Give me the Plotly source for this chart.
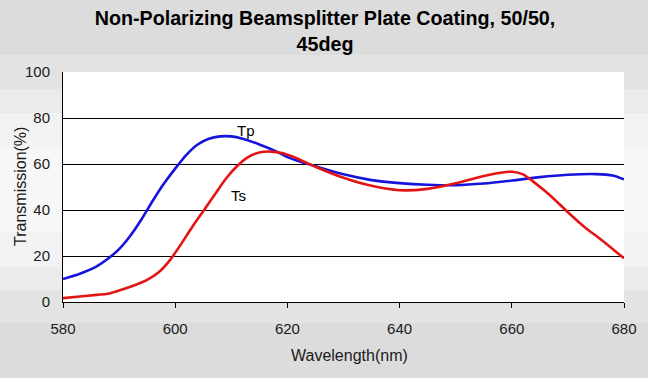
import plotly.graph_objects as go

wl_tp = [580, 583, 586, 588, 590, 592, 594, 596, 598, 600, 602, 604, 606, 608, 610, 612, 615, 618, 620, 623, 625, 630, 635, 640, 645, 650, 655, 660, 665, 670, 675, 678, 680]
tp = [10, 12.3, 15.5, 18.8, 23, 28.8, 36, 44, 51.5, 58, 64, 68.5, 71, 72, 72, 71, 68.5, 65.5, 63, 60.5, 59, 55.5, 53, 51.7, 51, 50.8, 51.5, 52.8, 54.3, 55.3, 55.6, 55, 53.3]

wl_ts = [580, 583, 586, 588, 590, 593, 595, 597, 599, 601, 603, 605, 607, 609, 611, 613, 615, 617, 619, 621, 623, 625, 630, 635, 640, 645, 650, 655, 658, 660, 662, 664, 667, 670, 673, 676, 680]
ts = [1.7, 2.4, 3.1, 3.6, 5, 7.5, 9.6, 12.8, 18, 25, 32.5, 39.5, 46.5, 53.5, 59, 63, 65, 65.4, 64.8, 63.2, 61, 58.8, 54, 50.5, 48.6, 49.2, 51.6, 54.8, 56.2, 56.6, 55.5, 52, 46, 39, 32.5, 27, 19]

x_ticks = [580, 600, 620, 640, 660, 680]
y_ticks = [0, 20, 40, 60, 80, 100]

title_text = "Non-Polarizing Beamsplitter Plate Coating, 50/50,<br>45deg"
x_title = "Wavelength(nm)"
y_title = "Transmission(%)"

W, H = 648, 378
ML, MR, MT, MB = 63, 24, 72, 76
PW, PH = W - ML - MR, H - MT - MB

band_edges = [0, 55, 89, 113, 148, 232, 267, 290, 323, 378]
band_colors = ["#dcdcdc", "#e3e3e3", "#ebebeb", "#f2f2f2", "#f7f7f7", "#f2f2f2", "#ebebeb", "#e3e3e3", "#dcdcdc"]

def py(p):
    return (H - MB - p) / PH

def px(p):
    return (p - ML) / PW

shapes = []
for i, c in enumerate(band_colors):
    shapes.append(dict(type="rect", xref="paper", yref="paper",
                       x0=px(0), x1=px(W),
                       y0=py(band_edges[i + 1]), y1=py(band_edges[i]),
                       fillcolor=c, line=dict(width=0), layer="below"))
shapes.append(dict(type="rect", xref="paper", yref="paper", x0=0, x1=1, y0=0, y1=1,
                   fillcolor="#ffffff", line=dict(width=0), layer="below"))

FONT = "Liberation Sans, Arial, sans-serif"

fig = go.Figure()
fig.add_trace(go.Scatter(x=wl_tp, y=tp, mode="lines", name="Tp",
                         line=dict(color="#1414dc", width=2.6, shape="spline", smoothing=0.8)))
fig.add_trace(go.Scatter(x=wl_ts, y=ts, mode="lines", name="Ts",
                         line=dict(color="#e41414", width=2.6, shape="spline", smoothing=0.8)))

fig.add_annotation(x=612.6, y=74.5, text="Tp", showarrow=False,
                   font=dict(family=FONT, size=15, color="#000"))
fig.add_annotation(x=611.2, y=46.5, text="Ts", showarrow=False,
                   font=dict(family=FONT, size=15, color="#000"))

fig.add_annotation(x=px(349), y=py(355), xref="paper", yref="paper", text=x_title,
                   showarrow=False, xanchor="center", yanchor="middle",
                   font=dict(family=FONT, size=16, color="#1a1a1a"))
fig.add_annotation(x=px(20), y=py(187), xref="paper", yref="paper", text=y_title,
                   showarrow=False, xanchor="center", yanchor="middle", textangle=-90,
                   font=dict(family=FONT, size=16, color="#1a1a1a"))

fig.update_layout(
    width=W, height=H,
    margin=dict(l=ML, r=MR, t=MT, b=MB),
    paper_bgcolor="#dcdcdc",
    plot_bgcolor="#ffffff",
    shapes=shapes,
    showlegend=False,
    title=dict(text=title_text, x=(325 / W), xanchor="center", xref="container",
               yref="container", y=1 - 25 / H, yanchor="top",
               font=dict(family=FONT, size=19.7, color="#000", weight="bold")),
    font=dict(family=FONT, size=15, color="#1a1a1a"),
)
fig.update_xaxes(range=[580, 680], tickvals=x_ticks, ticks="outside", ticklen=5,
                 tickcolor="#000", showline=True, linecolor="#000", linewidth=1,
                 showgrid=False, zeroline=False, ticklabelstandoff=8,
                 tickfont=dict(size=15))
fig.update_yaxes(range=[0, 100], tickvals=y_ticks, ticks="", showline=True,
                 linecolor="#000", linewidth=1, showgrid=True, gridcolor="#000",
                 gridwidth=1, zeroline=False, ticklabelstandoff=9,
                 tickfont=dict(size=15))

fig.write_html("out.html", config={"displayModeBar": False},
               post_script="document.body.style.margin='0px';")
